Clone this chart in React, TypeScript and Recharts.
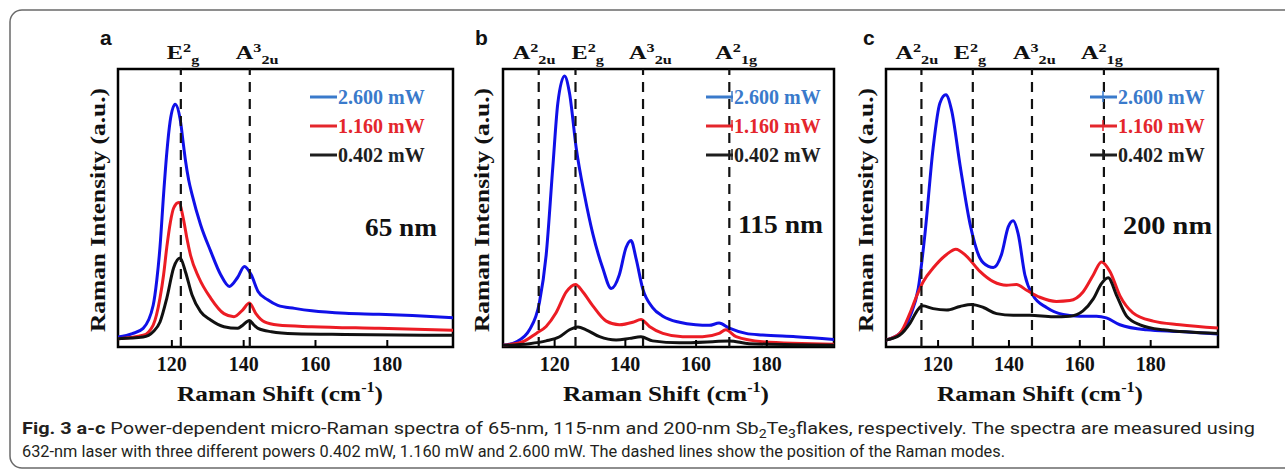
import React from "react";
import {
  Legend,
  Line,
  LineChart,
  ReferenceArea,
  ReferenceLine,
  XAxis,
  YAxis,
} from "recharts";

type Pt = [number, number];
type Mode = { base: string; sup: string; sub: string; shift: number };

const SERIF = "'Liberation Serif', 'Times New Roman', serif";
const SANS = "'Liberation Sans', Arial, sans-serif";
const CAPTION_FONT = "'Liberation Sans Narrow', Roboto, 'Noto Sans', sans-serif";

const powers = ["2.600 mW", "1.160 mW", "0.402 mW"];
const curveColors = ["#1010e8", "#ec1c24", "#111111"];
const legendColors = ["#3a7acb", "#e4262c", "#1e1e1e"];
const xTicks = [120, 140, 160, 180];

// (a) 65 nm flake  -- [Raman shift, intensity a.u.]
const a2600: Pt[] = [
  [105, 3.6], [109, 4.8], [112, 6.7], [114.8, 15], [115.8, 24], [116.7, 36],
  [117.7, 55], [118.6, 70], [119.5, 81], [120.9, 87.3], [122.3, 82], [123.3, 72],
  [123.8, 67], [124.7, 60], [125.6, 55], [128, 44], [130.8, 34.5], [133.6, 26],
  [136, 21.8], [138.3, 25], [140.2, 29], [142.1, 26], [144, 20], [146.7, 17],
  [149.5, 15], [154.2, 13.9], [159, 13], [168.3, 12.1], [177.7, 11.8], [187, 11.3],
  [198.3, 10.5],
];
const a1160: Pt[] = [
  [105, 3], [112, 4.2], [114.8, 7.9], [116.7, 17.6], [117.7, 26], [118.6, 36],
  [119.6, 45], [120.5, 50], [121.9, 52], [123.3, 45.5], [124.2, 39], [125.2, 33],
  [127.5, 25], [130.8, 17.6], [134.5, 12], [137.3, 10.9], [139.7, 13.3], [141.6, 15.8],
  [143.4, 12], [145.8, 9], [149.5, 7.9], [159, 7.3], [177.7, 6.7], [198.3, 6],
];
const a0402: Pt[] = [
  [105, 3], [112, 3.6], [114.8, 5.5], [116.7, 9], [118.6, 17.6], [120.5, 28.5],
  [122.3, 32], [123.8, 27], [125.6, 18.8], [128, 12.7], [130.8, 9.7], [134.5, 7.3],
  [138.3, 6.7], [139.4, 7.5], [141.6, 9.5], [142.8, 8], [144, 6.7], [147.7, 5.5],
  [154.2, 4.8], [168.3, 4.5], [198.3, 4.2],
];

// (b) 115 nm flake
const b2600: Pt[] = [
  [105.4, 0.6], [109.2, 1.9], [112.9, 6.2], [115.7, 16], [117.6, 33], [119.5, 65],
  [120.9, 87.7], [122.8, 97.5], [124.2, 91.4], [126.1, 71.6], [128.5, 54.3],
  [130.8, 40.7], [133.6, 28.4], [136, 21], [138.3, 26], [140.2, 35.8], [141.6, 38.3],
  [143, 32], [144.9, 21], [147.7, 14.2], [150.6, 11.1], [155.3, 8.9], [159.9, 8],
  [163.7, 7.8], [166.5, 8.6], [169.4, 6.8], [174.1, 4.9], [178.8, 4.3], [188.2, 3.7],
  [199, 2.7],
];
const b1160: Pt[] = [
  [105.4, 0.6], [111, 1.9], [114.8, 4.9], [117.6, 7.4], [120.4, 12.3], [123.3, 19.8],
  [125.9, 22.5], [128, 19.8], [130.8, 14.8], [134.6, 9.3], [138.3, 8], [142.1, 8.9],
  [144.4, 9.9], [146.8, 7.4], [150.6, 4.9], [156.2, 3.7], [161.8, 3.7], [166.5, 4.9],
  [168.4, 6.2], [171.3, 3.7], [178.8, 1.9], [199, 1],
];
const b0402: Pt[] = [
  [105.4, 0.6], [112.9, 1.2], [117.6, 2.2], [121.4, 3.7], [124.2, 6.2], [126.6, 7.2],
  [128.9, 6.2], [132.7, 3.7], [137.4, 2.5], [141.2, 3.1], [144.4, 3.7], [147.7, 2.2],
  [155.3, 1.5], [164.7, 1.9], [169.4, 2.2], [175, 1.2], [199, 0.6],
];

// (c) 200 nm flake
const c2600: Pt[] = [
  [105.3, 2.5], [109.2, 4.9], [112.1, 11.1], [114.4, 21], [116.3, 40.7], [118.6, 71.6],
  [120.5, 87.7], [122.2, 90.7], [123.8, 85.2], [126.2, 65.4], [129, 44.4], [131.8, 32],
  [134.2, 29], [135.6, 28.6], [137.9, 33.3], [139.8, 43.2], [141.2, 45.4], [142.6, 40.7],
  [144.5, 25.9], [146.8, 18.5], [150.6, 14.2], [155.3, 11.7], [160, 11.1], [164.7, 11.1],
  [167.5, 10.5], [171.3, 8], [178.8, 6.2], [188.2, 5.6], [199, 4.7],
];
const c1160: Pt[] = [
  [105.3, 2.5], [109.2, 4.9], [112.1, 12.3], [114, 18.5], [115.8, 23.5], [118.6, 28.4],
  [122.4, 33.3], [125, 35.2], [128, 32.7], [131.8, 27.2], [135.6, 23.5], [139.3, 22.2],
  [142.1, 22.5], [145, 20.4], [148.7, 17.9], [153.4, 16.4], [157.2, 16.7], [160.9, 19.8],
  [163.8, 25.9], [166.1, 30.6], [168.5, 27.2], [171.3, 18.5], [175, 12.3], [180.7, 9.3],
  [188.2, 8], [199, 6.8],
];
const c0402: Pt[] = [
  [105.3, 2.5], [109.2, 4.3], [112.1, 8.6], [114.4, 13.6], [115.6, 14.8], [118.6, 13.8],
  [122.4, 13.3], [126.2, 14.6], [129.5, 15.3], [132.8, 14.2], [136.5, 12], [141.2, 11.4],
  [145.9, 11.4], [152.5, 10.9], [157.2, 11.1], [160.9, 13], [163.8, 17.3], [166.1, 22.8],
  [168, 24.9], [170.4, 18.5], [173.2, 11.1], [177, 8], [183.5, 6.2], [199, 4.9],
];

const modesA: Mode[] = [
  { base: "E", sup: "2", sub: "g", shift: 122.5 },
  { base: "A", sup: "3", sub: "2u", shift: 141.7 },
];
const modesB: Mode[] = [
  { base: "A", sup: "2", sub: "2u", shift: 115.5 },
  { base: "E", sup: "2", sub: "g", shift: 125.9 },
  { base: "A", sup: "3", sub: "2u", shift: 145.0 },
  { base: "A", sup: "2", sub: "1g", shift: 169.4 },
];
const modesC: Mode[] = [
  { base: "A", sup: "2", sub: "2u", shift: 115.3 },
  { base: "E", sup: "2", sub: "g", shift: 129.8 },
  { base: "A", sup: "3", sub: "2u", shift: 146.5 },
  { base: "A", sup: "2", sub: "1g", shift: 166.8 },
];

const TOP = 69;
const BOTTOM = 347;
const CH = 420;
const XAXIS_H = 60;
const YAXIS_W = 30;

type PanelCfg = {
  letter: string;
  letterX: number;
  thickness: string;
  thickX: number;
  thickY: number;
  thickLen: number;
  domain: [number, number];
  series: Pt[][];
  modes: Mode[];
  modeDx: number[];
  left: number;
  width: number;
  plotLeft: number;
  plotRight: number;
  legendX: number;
  legendBar: "none" | "end" | "mid";
  titleX: number;
  yTitleX: number;
};

const panels: PanelCfg[] = [
  {
    letter: "a", letterX: 100, thickness: "65 nm", thickX: 365, thickY: 236, thickLen: 72,
    domain: [105, 198.3], series: [a2600, a1160, a0402], modes: modesA, modeDx: [-14, -14],
    left: 0, width: 470, plotLeft: 118, plotRight: 453, legendX: 310, legendBar: "none",
    titleX: 280, yTitleX: 97,
  },
  {
    letter: "b", letterX: 475, thickness: "115 nm", thickX: 738, thickY: 233, thickLen: 85,
    domain: [105.4, 199], series: [b2600, b1160, b0402], modes: modesB, modeDx: [-26, -4, -14, -14],
    left: 390, width: 460, plotLeft: 503, plotRight: 834, legendX: 706, legendBar: "end",
    titleX: 666, yTitleX: 481,
  },
  {
    letter: "c", letterX: 863, thickness: "200 nm", thickX: 1123, thickY: 234, thickLen: 89,
    domain: [105.3, 199], series: [c2600, c1160, c0402], modes: modesC, modeDx: [-26, -19, -19, -23],
    left: 770, width: 515, plotLeft: 886, plotRight: 1218, legendX: 1090, legendBar: "mid",
    titleX: 1040, yTitleX: 865,
  },
];

function Tick(props: any) {
  const { x, y, payload } = props;
  return (
    <g>
      <line x1={x} x2={x} y1={y} y2={y - 7} stroke="#000" strokeWidth={2} />
      <text x={x} y={y + 24} textAnchor="middle" fontFamily={SERIF} fontWeight="bold" fontSize={20} fill="#111">
        {payload.value}
      </text>
    </g>
  );
}

function ModeLabel({ viewBox, mode, dx }: any) {
  const x = (viewBox?.x ?? 0) + dx;
  return (
    <g transform={`translate(${x}, ${TOP - 10}) scale(1.35, 1)`}>
      <text x={0} y={0} fontFamily={SERIF} fontWeight="bold" fontSize={18} fill="#111">
        <tspan>{mode.base}</tspan>
        <tspan fontSize={12} dy={-7}>{mode.sup}</tspan>
        <tspan fontSize={12} dy={12}>{mode.sub}</tspan>
      </text>
    </g>
  );
}

function LegendBox({ bar }: { bar: PanelCfg["legendBar"] }) {
  return (
    <svg width={130} height={90} style={{ overflow: "visible", display: "block" }}>
      {powers.map((name, i) => {
        const cy = 12 + 29 * i;
        const barX = bar === "end" ? 26 : 13;
        return (
          <g key={name}>
            <line x1={0} x2={27} y1={cy} y2={cy} stroke={legendColors[i]} strokeWidth={3} />
            {bar !== "none" && (
              <line x1={barX} x2={barX} y1={cy - 6} y2={cy + 5} stroke={legendColors[i]} strokeWidth={1.5} />
            )}
            <text x={28} y={cy + 7} fontFamily={SERIF} fontWeight="bold" fontSize={20} fill={legendColors[i]}>
              {name}
            </text>
          </g>
        );
      })}
    </svg>
  );
}

function Panel({ p }: { p: PanelCfg }) {
  const ml = p.plotLeft - p.left - YAXIS_W;
  const mr = p.left + p.width - p.plotRight;
  return (
    <div style={{ position: "absolute", left: p.left, top: 0, width: p.width, height: CH }}>
      <LineChart
        width={p.width}
        height={CH}
        margin={{ top: TOP, right: mr, left: ml, bottom: CH - BOTTOM - XAXIS_H }}
      >
        <XAxis
          type="number"
          dataKey="x"
          domain={p.domain}
          allowDataOverflow
          ticks={xTicks}
          interval={0}
          height={XAXIS_H}
          axisLine={false}
          tickLine={false}
          tickSize={0}
          tickMargin={0}
          tick={<Tick />}
          label={{
            content: () => (
              <text
                x={p.titleX - p.left}
                y={BOTTOM + 54}
                textAnchor="middle"
                fontFamily={SERIF}
                fontWeight="bold"
                fontSize={22}
                fill="#111"
                textLength={206}
                lengthAdjust="spacingAndGlyphs"
              >
                <tspan>Raman Shift (cm</tspan>
                <tspan fontSize={14} dy={-9}>-1</tspan>
                <tspan dy={9}>)</tspan>
              </text>
            ),
          }}
        />
        <YAxis
          type="number"
          domain={[0, 100]}
          width={YAXIS_W}
          tick={false}
          axisLine={false}
          tickLine={false}
          label={{
            content: () => (
              <text
                transform={`translate(${p.yTitleX - p.left + 8}, 210) rotate(-90)`}
                x={0}
                y={0}
                textAnchor="middle"
                fontFamily={SERIF}
                fontWeight="bold"
                fontSize={22}
                fill="#111"
                textLength={244}
                lengthAdjust="spacingAndGlyphs"
              >
                Raman Intensity (a.u.)
              </text>
            ),
          }}
        />
        {p.series.map((s, i) => (
          <Line
            key={powers[i]}
            name={powers[i]}
            data={s.map(([x, y]) => ({ x, y }))}
            dataKey="y"
            type="monotone"
            stroke={curveColors[i]}
            strokeWidth={3}
            dot={false}
            activeDot={false}
            isAnimationActive={false}
          />
        ))}
        {p.modes.map((m, i) => (
          <ReferenceLine
            key={`${m.base}${m.sub}${m.shift}`}
            x={m.shift}
            stroke="#111"
            strokeWidth={2.2}
            strokeDasharray="10 7"
            label={(props: any) => <ModeLabel {...props} mode={m} dx={p.modeDx[i]} />}
          />
        ))}
        <ReferenceArea
          x1={p.domain[0]}
          x2={p.domain[1]}
          y1={0}
          y2={100}
          fill="none"
          fillOpacity={0}
          stroke="#000"
          strokeWidth={2.5}
        />
        <Legend
          layout="vertical"
          align="center"
          verticalAlign="middle"
          wrapperStyle={{ left: p.legendX - p.left, top: 85, width: 130, height: 90 }}
          content={() => <LegendBox bar={p.legendBar} />}
        />
      </LineChart>
    </div>
  );
}

export default function App() {
  return (
    <div
      style={{
        position: "absolute",
        left: 0,
        top: 0,
        width: 1285,
        height: 472,
        background: "#fff",
        overflow: "hidden",
      }}
    >
      {panels.map((p) => (
        <Panel key={p.letter} p={p} />
      ))}
      <svg
        width={1285}
        height={472}
        style={{ position: "absolute", left: 0, top: 0, pointerEvents: "none" }}
      >
        <rect x={10} y={10} width={1300} height={458} rx={12} fill="none" stroke="#6a6a6a" strokeWidth={1.5} />
        {panels.map((p) => (
          <g key={p.letter}>
            <text x={p.letterX} y={45} fontFamily={SANS} fontWeight="bold" fontSize={21} fill="#111">
              {p.letter}
            </text>
            <text
              x={p.thickX}
              y={p.thickY}
              fontFamily={SERIF}
              fontWeight="bold"
              fontSize={25}
              fill="#111"
              textLength={p.thickLen}
              lengthAdjust="spacingAndGlyphs"
            >
              {p.thickness}
            </text>
          </g>
        ))}
        <text
          x={22}
          y={434}
          fontFamily={CAPTION_FONT}
          fontSize={17}
          fill="#231f20"
          textLength={1233}
          lengthAdjust="spacingAndGlyphs"
        >
          <tspan fontWeight="bold">Fig. 3</tspan>
          <tspan fontWeight="bold"> a-c</tspan>
          <tspan> Power-dependent micro-Raman spectra of 65-nm, 115-nm and 200-nm Sb</tspan>
          <tspan fontSize={12} dy={4}>2</tspan>
          <tspan dy={-4}>Te</tspan>
          <tspan fontSize={12} dy={4}>3</tspan>
          <tspan dy={-4}>flakes, respectively. The spectra are measured using</tspan>
        </text>
        <text
          x={22}
          y={457}
          fontFamily={CAPTION_FONT}
          fontSize={17}
          fill="#231f20"
          textLength={983}
          lengthAdjust="spacingAndGlyphs"
        >
          632-nm laser with three different powers 0.402 mW, 1.160 mW and 2.600 mW. The dashed lines show the position of the Raman modes.
        </text>
      </svg>
    </div>
  );
}
